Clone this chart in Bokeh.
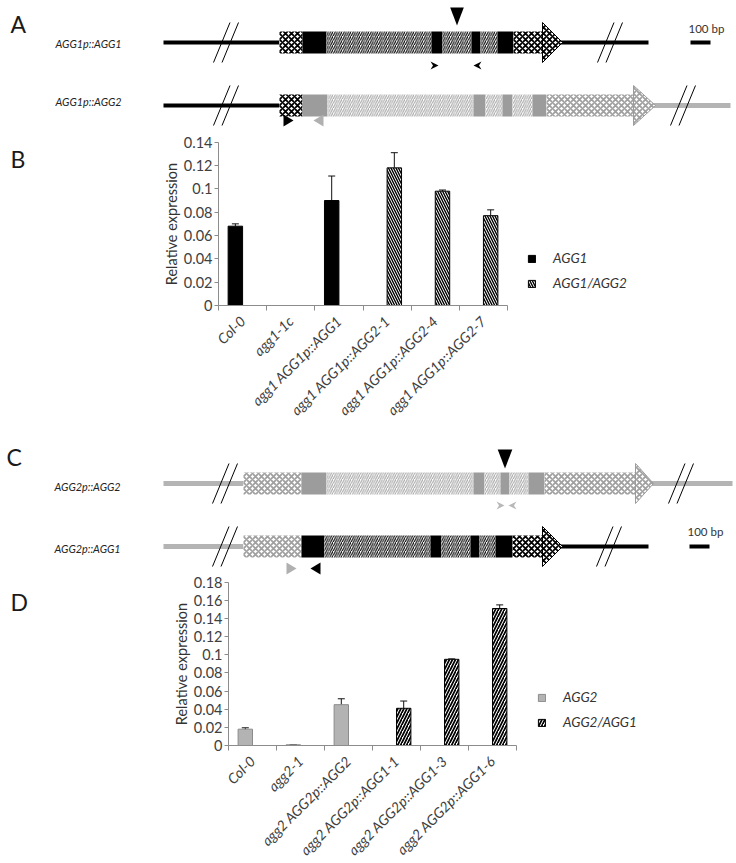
import math
from bokeh.plotting import figure
from bokeh.models import (Range1d, FixedTicker, CustomJSTickFormatter, Legend, LegendItem,
                          Whisker, ColumnDataSource, TeeHead, Label, LinearAxis)
from bokeh.layouts import column
from bokeh.core.properties import value
from bokeh.embed import file_html
from bokeh.resources import INLINE

FONT = "Lato"
PAGE_W = 736

# ---------------- Panel B data ----------------
B_CATEGORIES = ["Col-0", "agg1-1c", "agg1 AGG1p::AGG1", "agg1 AGG1p::AGG2-1",
                "agg1 AGG1p::AGG2-4", "agg1 AGG1p::AGG2-7"]
B_AGG1 = [0.068, None, 0.090, None, None, None]
B_AGG1_ERR = [0.002, None, 0.021, None, None, None]
B_SWAP = [None, None, None, 0.118, 0.098, 0.077]
B_SWAP_ERR = [None, None, None, 0.013, 0.001, 0.005]
B_YTICKS = [0, 0.02, 0.04, 0.06, 0.08, 0.1, 0.12, 0.14]
B_LEGEND = ["AGG1", "AGG1/AGG2"]

# ---------------- Panel D data ----------------
D_CATEGORIES = ["Col-0", "agg2-1", "agg2 AGG2p::AGG2", "agg2 AGG2p::AGG1-1",
                "agg2 AGG2p::AGG1-3", "agg2 AGG2p::AGG1-6"]
D_AGG2 = [0.018, 0.0008, 0.045, None, None, None]
D_AGG2_ERR = [0.0015, 0.0001, 0.0065, None, None, None]
D_SWAP = [None, None, None, 0.041, 0.095, 0.151]
D_SWAP_ERR = [None, None, None, 0.008, 0.0005, 0.004]
D_YTICKS = [0, 0.02, 0.04, 0.06, 0.08, 0.1, 0.12, 0.14, 0.16, 0.18]
D_LEGEND = ["AGG2", "AGG2/AGG1"]

# ---------------- Gene schematics (page-pixel layout) ----------------
A_ROW_LABELS = ["AGG1p::AGG1", "AGG1p::AGG2"]
A1_EDGES = [279, 302, 326, 431, 442, 471, 480, 497, 513, 542]
A1_STYLES = ["xk", "k", "hk", "k", "hk", "k", "hk", "k", "xk"]
A2_EDGES = [279, 302, 327, 473, 485, 502, 512, 532, 546, 633]
A2_STYLES = ["xk", "g", "hg", "g", "hg", "g", "hg", "g", "xg"]

C_ROW_LABELS = ["AGG2p::AGG2", "AGG2p::AGG1"]
C1_EDGES = [243, 301, 326, 473, 484, 500, 509, 528, 544, 635]
C1_STYLES = ["xg", "g", "hg", "g", "hg", "g", "hg", "g", "xg"]
C2_EDGES = [243, 301, 324, 430, 441, 470, 479, 495, 512, 542]
C2_STYLES = ["xg", "k", "hk", "k", "hk", "k", "hk", "k", "xk"]

BLACK = "#000000"
GREY = "#9c9c9c"
LINE_GREY = "#b4b4b4"

STYLES = {
    "k": dict(fill_color=BLACK),
    "g": dict(fill_color=GREY),
    "hk": dict(fill_color="white", hatch_pattern="/", hatch_color=BLACK, hatch_scale=4.5, hatch_weight=1.1),
    "hg": dict(fill_color="white", hatch_pattern="/", hatch_color="#a6a6a6", hatch_scale=4.5, hatch_weight=1.1),
    "xk": dict(fill_color="white", hatch_pattern="x", hatch_color=BLACK, hatch_scale=6, hatch_weight=1.8),
    "xg": dict(fill_color="white", hatch_pattern="x", hatch_color="#a0a0a0", hatch_scale=6, hatch_weight=1.8),
}


def canvas(top, bottom):
    p = figure(width=PAGE_W, height=bottom - top, x_range=Range1d(0, PAGE_W), y_range=Range1d(bottom, top),
               x_axis_type=None, y_axis_type=None, output_backend="svg", toolbar_location=None,
               min_border=0)
    p.outline_line_color = None
    p.xgrid.visible = False
    p.ygrid.visible = False
    if "frame_align" in type(p).properties():
        p.frame_align = False
    return p


def gene(p, cy, edges, styles, arrow_tip, arrow_style, arrow_line, half=11, arrow_half=20):
    for x0, x1, st in zip(edges[:-1], edges[1:], styles):
        p.quad(left=[x0], right=[x1], top=[cy - half], bottom=[cy + half], line_color=None, **STYLES[st])
    base = edges[-1]
    p.patch(x=[base, base, arrow_tip], y=[cy - arrow_half, cy + arrow_half, cy],
            line_color=arrow_line, line_width=1, **STYLES[arrow_style])


def hline(p, x0, x1, cy, color, w=4):
    p.segment(x0=[x0], y0=[cy], x1=[x1], y1=[cy], line_color=color, line_width=w, line_cap="butt")


def breaks(p, xb, cy):
    p.segment(x0=[xb, xb + 8.5], y0=[cy + 20, cy + 20], x1=[xb + 16.5, xb + 25], y1=[cy - 20, cy - 20],
              line_color=BLACK, line_width=1)


def chevron(p, cx, cy, direction, color):
    d = direction
    p.patch(x=[cx - 4 * d, cx + 4 * d, cx - 4 * d, cx - 1.5 * d], y=[cy - 4, cy, cy + 4, cy],
            fill_color=color, line_color=None)


def solid_tri(p, cx, cy, direction, color):
    d = direction
    p.patch(x=[cx - 5 * d, cx + 5 * d, cx - 5 * d], y=[cy - 6, cy, cy + 6], fill_color=color, line_color=None)


def down_tri(p, cx, ytop, ybot, hw):
    p.patch(x=[cx - hw, cx + hw, cx], y=[ytop, ytop, ybot], fill_color=BLACK, line_color=None)


def labels(p, xs, ys, texts, size, style="italic", color="#222222"):
    p.text(x=xs, y=ys, text=texts, text_font=value(FONT), text_font_style=style,
           text_font_size=size, text_baseline="middle", text_align="left", text_color=color)


# ---------- Panel A ----------
pa = canvas(0, 130)
labels(pa, [10], [23], ["A"], "23px", style="normal", color="#1a1a1a")
labels(pa, [55, 55], [43, 101], A_ROW_LABELS, "10.8px")
hline(pa, 163, 279, 42, BLACK)
hline(pa, 560, 648, 42, BLACK)
gene(pa, 42, A1_EDGES, A1_STYLES, 562, "xk", BLACK)
breaks(pa, 213, 42)
breaks(pa, 597, 42)
down_tri(pa, 456.5, 7, 25, 6.8)
chevron(pa, 434, 65, 1, BLACK)
chevron(pa, 477, 65, -1, BLACK)
hline(pa, 690, 710, 42, BLACK)
labels(pa, [688], [28], ["100 bp"], "11.5px", style="normal", color="#333333")
hline(pa, 163, 279, 105, BLACK)
hline(pa, 652, 730, 105, LINE_GREY, w=5)
gene(pa, 105, A2_EDGES, A2_STYLES, 655, "xg", GREY)
breaks(pa, 213, 105)
breaks(pa, 670, 105)
solid_tri(pa, 288, 120, 1, BLACK)
solid_tri(pa, 318, 120, -1, "#b0b0b0")

# ---------- Panel C ----------
pc = canvas(425, 575)
labels(pc, [6], [456], ["C"], "23px", style="normal", color="#1a1a1a")
labels(pc, [54, 54], [486, 548], C_ROW_LABELS, "10.8px")
hline(pc, 163, 243, 483, LINE_GREY, w=5)
hline(pc, 650, 732, 483, LINE_GREY, w=5)
gene(pc, 483, C1_EDGES, C1_STYLES, 653, "xg", GREY)
breaks(pc, 212, 483)
breaks(pc, 668, 483)
down_tri(pc, 504.5, 449, 468, 7.3)
chevron(pc, 500, 505, 1, "#b8b8b8")
chevron(pc, 512, 505, -1, "#b8b8b8")
hline(pc, 163, 243, 546, LINE_GREY, w=5)
hline(pc, 560, 648, 546, BLACK)
gene(pc, 546, C2_EDGES, C2_STYLES, 562, "xk", BLACK)
breaks(pc, 212, 546)
breaks(pc, 596, 546)
solid_tri(pc, 291, 568, 1, "#b0b0b0")
solid_tri(pc, 315, 568, -1, BLACK)
hline(pc, 689, 709, 546, BLACK)
labels(pc, [687], [531], ["100 bp"], "11.5px", style="normal", color="#333333")


# ---------- Bar charts ----------
# The frame fills the whole figure; both axes are pinned at data 0 inside it.
def bar_chart(height, zero_px, top_px, axis_px, cat_px, cats, s1, e1, s2, e2, style1, style2,
              ymax, yticks, legend_labels, legend_loc, letter, letter_xy, symmetric):
    sy = (zero_px - top_px) / ymax          # px per unit
    p = figure(width=PAGE_W, height=height,
               x_range=Range1d(-axis_px / cat_px, (PAGE_W - axis_px) / cat_px),
               y_range=Range1d(-(height - zero_px) / sy, ymax + top_px / sy),
               output_backend="svg", toolbar_location=None, x_axis_location=None, y_axis_location=None,
               min_border=0)
    p.outline_line_color = None
    p.xgrid.visible = False
    p.ygrid.visible = False

    rends = []
    for vals, errs, off, st in ((s1, e1, -0.15, style1), (s2, e2, 0.15, style2)):
        xs = [i + 0.5 + off for i, v in enumerate(vals) if v is not None]
        tops = [v for v in vals if v is not None]
        er = [e for v, e in zip(vals, errs) if v is not None]
        src = ColumnDataSource(dict(x=xs, top=tops,
                                    upper=[t + e for t, e in zip(tops, er)],
                                    lower=[t - e if symmetric else t for t, e in zip(tops, er)]))
        r = p.vbar(x="x", top="top", bottom=0, width=0.3, source=src, **st)
        rends.append(r)
        w = Whisker(source=src, base="x", upper="upper", lower="lower", line_color="#111111", line_width=1,
                    upper_head=TeeHead(size=7, line_color="#111111", line_width=1),
                    lower_head=TeeHead(size=7, line_color="#111111", line_width=1) if symmetric else None)
        p.add_layout(w)

    centers = [i + 0.5 for i in range(len(cats))]
    xa = LinearAxis(fixed_location=0)
    xa.bounds = (0, len(cats))
    xa.ticker = FixedTicker(ticks=centers, minor_ticks=list(range(len(cats) + 1)))
    xa.major_label_overrides = {c: t for c, t in zip(centers, cats)}
    xa.major_label_orientation = math.pi / 4
    xa.major_tick_line_color = None
    xa.major_tick_out = 0
    xa.major_tick_in = 0
    xa.minor_tick_line_color = "#8c8c8c"
    xa.minor_tick_out = 5
    xa.minor_tick_in = 0
    xa.axis_line_color = "#8c8c8c"
    xa.major_label_text_font = FONT
    xa.major_label_text_font_style = "italic"
    xa.major_label_text_font_size = "14.2px"
    xa.major_label_text_color = "#404040"
    xa.major_label_standoff = 8
    p.add_layout(xa, "below")

    ya = LinearAxis(fixed_location=0)
    ya.bounds = (0, ymax)
    ya.ticker = FixedTicker(ticks=yticks, minor_ticks=[])
    ya.formatter = CustomJSTickFormatter(code="return String(Math.round(tick*100)/100);")
    ya.axis_line_color = "#8c8c8c"
    ya.major_tick_line_color = "#8c8c8c"
    ya.major_tick_out = 4
    ya.major_tick_in = 0
    ya.minor_tick_line_color = None
    ya.major_label_text_font = FONT
    ya.major_label_text_font_size = "14.5px"
    ya.major_label_text_color = "#404040"
    ya.major_label_standoff = 2
    ya.axis_label = "Relative expression"
    ya.axis_label_text_font = FONT
    ya.axis_label_text_font_style = "normal"
    ya.axis_label_text_font_size = "14.5px"
    ya.axis_label_text_color = "#333333"
    ya.axis_label_standoff = 1
    p.add_layout(ya, "left")

    legend = Legend(items=[LegendItem(label=legend_labels[0], renderers=[rends[0]]),
                           LegendItem(label=legend_labels[1], renderers=[rends[1]])],
                    location=legend_loc, orientation="vertical",
                    glyph_width=9, glyph_height=9, label_height=20, spacing=5,
                    padding=0, margin=0, label_standoff=17,
                    label_text_font=FONT, label_text_font_style="italic", label_text_font_size="13.5px",
                    label_text_color="#333333",
                    background_fill_alpha=0, border_line_color=None)
    p.add_layout(legend)

    p.add_layout(Label(x=letter_xy[0], y=letter_xy[1], x_units="screen", y_units="screen", text=letter,
                       text_font=FONT, text_font_size="23px", text_color="#1a1a1a",
                       text_baseline="middle", text_align="left"))
    return p


B_STYLE1 = dict(fill_color=BLACK, line_color=BLACK, line_width=1)
B_STYLE2 = dict(fill_color="white", line_color=BLACK, line_width=1, hatch_pattern="\\",
                hatch_color=BLACK, hatch_scale=5, hatch_weight=1.4)
D_STYLE1 = dict(fill_color="#b3b3b3", line_color="#8c8c8c", line_width=1)
D_STYLE2 = dict(fill_color="white", line_color=BLACK, line_width=1, hatch_pattern="/",
                hatch_color=BLACK, hatch_scale=6, hatch_weight=1.7)

# B: page rows 130-425, zero line at row 305, top tick at 141.7, y axis at x=218
pb = bar_chart(295, 175, 11.7, 218, 48.17, B_CATEGORIES, B_AGG1, B_AGG1_ERR, B_SWAP, B_SWAP_ERR,
               B_STYLE1, B_STYLE2, 0.14, B_YTICKS, B_LEGEND, (527, 132), "B", (10, 267), False)
# D: page rows 575-862, zero line at row 745, top tick at 581.7, y axis at x=228
pd_ = bar_chart(287, 170, 6.7, 228, 48.0, D_CATEGORIES, D_AGG2, D_AGG2_ERR, D_SWAP, D_SWAP_ERR,
                D_STYLE1, D_STYLE2, 0.18, D_YTICKS, D_LEGEND, (537, 130), "D", (10, 261), True)

layout = column(pa, pb, pc, pd_, spacing=0)
open("out.html", "w").write(file_html(layout, INLINE))
